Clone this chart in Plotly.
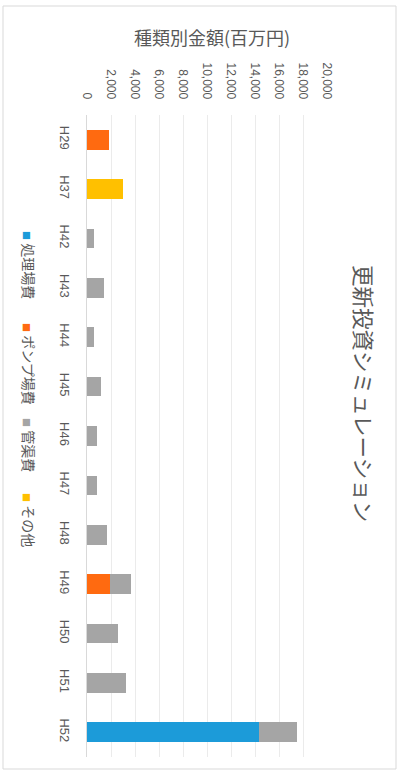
import plotly.graph_objects as go

# 年度（カテゴリ）
categories = ["H29", "H37", "H42", "H43", "H44", "H45", "H46",
              "H47", "H48", "H49", "H50", "H51", "H52"]

# 種類別金額（百万円）
shori_jo = [None, None, None, None, None, None, None, None, None, None, None, None, 14300]
pump_jo = [1860, None, None, None, None, None, None, None, None, 1920, None, None, None]
kankyo = [None, None, 580, 1440, 580, 1140, 800, 800, 1640, 1750, 2610, 3230, 3170]
sonota = [None, 3030, None, None, None, None, None, None, None, None, None, None, None]

series_names = ["処理場費", "ポンプ場費", "管渠費", "その他"]
series_values = [shori_jo, pump_jo, kankyo, sonota]
series_colors = ["#1C9BD9", "#FF6A10", "#A5A5A5", "#FFC000"]

value_ticks = list(range(0, 20001, 2000))
value_tick_text = ["{:,}".format(v) for v in value_ticks]

W, H = 402, 773
PL, PR, PT, PB = 87, 327, 115, 757  # plot area in pixels


def px(x):
    return (x - PL) / (PR - PL)


def py(y):
    return (PB - y) / (PB - PT)


TEXT = "#595959"
JP = "Noto Sans CJK JP"
NUM = "Liberation Sans"

fig = go.Figure()
for name, vals, col in zip(series_names, series_values, series_colors):
    fig.add_trace(go.Bar(
        y=categories, x=vals, name=name, orientation="h",
        marker=dict(color=col, line=dict(width=0)),
        showlegend=False,
    ))

fig.update_layout(
    width=W, height=H,
    margin=dict(l=PL, r=W - PR, t=PT, b=H - PB, pad=0),
    paper_bgcolor="white", plot_bgcolor="white",
    barmode="stack", bargap=0.6,
    font=dict(family=NUM, color=TEXT),
    xaxis=dict(
        side="top", range=[0, 20000],
        tickvals=value_ticks, ticktext=value_tick_text,
        tickangle=90, tickfont=dict(size=12, color=TEXT, family=NUM),
        showgrid=True, gridcolor="#EBEBEB", gridwidth=1,
        zeroline=False, showline=False, ticks="",
        ticklabelstandoff=13,
    ),
    yaxis=dict(
        autorange="reversed", type="category",
        tickangle=90, tickfont=dict(size=13, color=TEXT, family=NUM),
        showgrid=False, zeroline=False,
        showline=True, linecolor="#D9D9D9", linewidth=1, ticks="",
        ticklabelstandoff=10,
    ),
)

# 外枠
fig.add_shape(type="rect", xref="paper", yref="paper",
              x0=px(3), x1=px(396), y0=py(769), y1=py(6),
              line=dict(color="#D9D9D9", width=1), fillcolor="rgba(0,0,0,0)",
              layer="below")

# タイトル
fig.add_annotation(text="更新投資シミュレーション", xref="paper", yref="paper",
                   x=px(365), y=py(393), textangle=90, showarrow=False,
                   xanchor="center", yanchor="middle",
                   font=dict(size=21.5, color=TEXT, family=JP))

# 軸タイトル
fig.add_annotation(text="種類別金額(百万円)", xref="paper", yref="paper",
                   x=px(212), y=py(37), showarrow=False,
                   xanchor="center", yanchor="middle",
                   font=dict(size=18, color=TEXT, family=JP))

# 凡例
legend_y = [265, 364, 445, 520]
for name, col, ly in zip(series_names, series_colors, legend_y):
    fig.add_annotation(
        text='<span style="font-size:9px;color:%s">■</span> %s' % (col, name),
        xref="paper", yref="paper", x=px(29), y=py(ly), textangle=90,
        showarrow=False, xanchor="center", yanchor="middle",
        font=dict(size=14, color=TEXT, family=JP))

fig.write_html("out.html")
